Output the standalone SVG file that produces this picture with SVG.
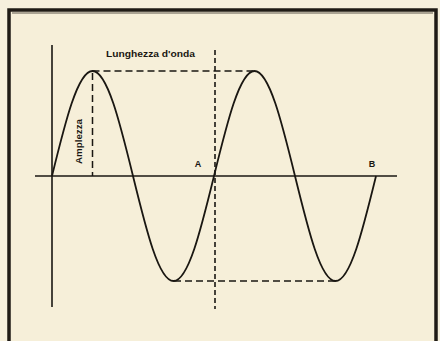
<svg xmlns="http://www.w3.org/2000/svg" width="440" height="341" viewBox="0 0 440 341">
<style>
.axis{stroke:#1a1712;stroke-width:1.6;fill:none}
.wave{stroke:#1a1712;stroke-width:1.8;fill:none;stroke-linejoin:round}
.dash{stroke:#1a1712;stroke-width:1.5;fill:none;stroke-dasharray:7 4}
.vdash{stroke:#1a1712;stroke-width:1.6;fill:none;stroke-dasharray:5 3}
.lbl{font-family:"Liberation Sans",Arial,sans-serif;font-weight:bold;fill:#1a1712}
</style>
<rect x="0" y="0" width="440" height="341" fill="#f6f0dd"/>
<rect x="9" y="10" width="427" height="345" fill="#f6efd9" stroke="#1f1b16" stroke-width="3.5"/>
<line x1="12" y1="13" x2="433" y2="13" stroke="#3a342b" stroke-width="0.8"/>
<g id="axes">
<line class="axis" x1="52" y1="45" x2="52" y2="307"/>
<line class="axis" x1="35" y1="176" x2="397" y2="176"/>
</g>
<g id="connectors">
<line class="dash" x1="92.5" y1="71" x2="254" y2="71"/>
<line class="dash" x1="174" y1="281" x2="335" y2="281"/>
<line class="dash" x1="92.5" y1="73" x2="92.5" y2="176"/>
<line class="vdash" x1="215" y1="50" x2="215" y2="309"/>
</g>
<g id="wave">
<path class="wave" d="M52,176 C65.2,122.2 77.8,71 92.5,71 C107.2,71 119.8,122.2 133,176 C146.2,229.8 158.7,281 173.5,281 C188.3,281 200.8,229.8 214,176 C227.2,122.2 239.8,71 254.5,71 C269.2,71 281.8,122.2 295,176 C308.2,229.8 320.7,281 335.5,281 C350.3,281 362.8,229.8 376,176"/>
</g>
<g id="label-lunghezza">
<text class="lbl" x="106" y="56.5" font-size="9" textLength="89" lengthAdjust="spacingAndGlyphs">Lunghezza d'onda</text>
</g>
<g id="label-ampiezza">
<text class="lbl" font-size="8.5" transform="translate(81.5,164) rotate(-90)" textLength="45" lengthAdjust="spacingAndGlyphs">Amplezza</text>
</g>
<g id="label-A">
<text class="lbl" x="198" y="166.5" font-size="9" text-anchor="middle">A</text>
</g>
<g id="label-B">
<text class="lbl" x="372" y="166.5" font-size="9" text-anchor="middle">B</text>
</g>
</svg>
